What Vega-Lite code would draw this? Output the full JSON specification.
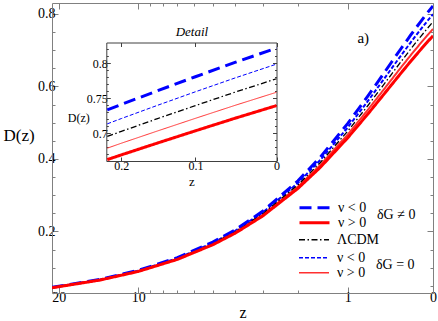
{
  "$schema": "https://vega.github.io/schema/vega-lite/v6.json",
  "width": 381,
  "height": 290,
  "autosize": "none",
  "padding": {"left": 52, "top": 3, "right": 5, "bottom": 28},
  "background": "white",
  "config": {
    "view": {"stroke": null},
    "axis": {"grid": false, "labelFont": "Liberation Serif, Times New Roman, serif", "titleFont": "Liberation Serif, Times New Roman, serif", "labelColor": "black", "titleColor": "black", "titleFontWeight": "normal", "labelFlush": false, "labelOverlap": false},
    "legend": {"orient": "none", "padding": 0, "labelFont": "Liberation Serif, Times New Roman, serif", "labelFontSize": 14, "labelColor": "black", "titleFont": "Liberation Serif, Times New Roman, serif", "titleFontSize": 14, "titleFontWeight": "normal", "titleColor": "black", "symbolType": "stroke", "symbolSize": 900, "clipHeight": 13.5, "labelOffset": 7, "rowPadding": 0, "titleOrient": "right", "titlePadding": 11, "titleBaseline": "middle", "titleAnchor": "middle"},
    "text": {"font": "Liberation Serif, Times New Roman, serif"}
  },
  "datasets": {
    "curves": [
      {"zp1": 1, "series": "BT", "D": 0.822}, {"zp1": 1, "series": "RT", "D": 0.7395}, {"zp1": 1, "series": "LC", "D": 0.778}, {"zp1": 1, "series": "BN", "D": 0.799}, {"zp1": 1, "series": "RN", "D": 0.7586},
      {"zp1": 1.05, "series": "BT", "D": 0.8014}, {"zp1": 1.05, "series": "RT", "D": 0.7213}, {"zp1": 1.05, "series": "LC", "D": 0.7587}, {"zp1": 1.05, "series": "BN", "D": 0.7791}, {"zp1": 1.05, "series": "RN", "D": 0.7398},
      {"zp1": 1.1, "series": "BT", "D": 0.7809}, {"zp1": 1.1, "series": "RT", "D": 0.7033}, {"zp1": 1.1, "series": "LC", "D": 0.7395}, {"zp1": 1.1, "series": "BN", "D": 0.7593}, {"zp1": 1.1, "series": "RN", "D": 0.7212},
      {"zp1": 1.15, "series": "BT", "D": 0.7608}, {"zp1": 1.15, "series": "RT", "D": 0.6858}, {"zp1": 1.15, "series": "LC", "D": 0.7208}, {"zp1": 1.15, "series": "BN", "D": 0.7399}, {"zp1": 1.15, "series": "RN", "D": 0.7031},
      {"zp1": 1.2, "series": "BT", "D": 0.7411}, {"zp1": 1.2, "series": "RT", "D": 0.6688}, {"zp1": 1.2, "series": "LC", "D": 0.7025}, {"zp1": 1.2, "series": "BN", "D": 0.7209}, {"zp1": 1.2, "series": "RN", "D": 0.6855},
      {"zp1": 1.22, "series": "BT", "D": 0.7332}, {"zp1": 1.22, "series": "RT", "D": 0.662}, {"zp1": 1.22, "series": "LC", "D": 0.6952}, {"zp1": 1.22, "series": "BN", "D": 0.7133}, {"zp1": 1.22, "series": "RN", "D": 0.6784},
      {"zp1": 1.3, "series": "BT", "D": 0.7031}, {"zp1": 1.3, "series": "RT", "D": 0.6358}, {"zp1": 1.3, "series": "LC", "D": 0.6672}, {"zp1": 1.3, "series": "BN", "D": 0.6843}, {"zp1": 1.3, "series": "RN", "D": 0.6514},
      {"zp1": 1.4, "series": "BT", "D": 0.6673}, {"zp1": 1.4, "series": "RT", "D": 0.6047}, {"zp1": 1.4, "series": "LC", "D": 0.6339}, {"zp1": 1.4, "series": "BN", "D": 0.6498}, {"zp1": 1.4, "series": "RN", "D": 0.6192},
      {"zp1": 1.5, "series": "BT", "D": 0.6334}, {"zp1": 1.5, "series": "RT", "D": 0.5758}, {"zp1": 1.5, "series": "LC", "D": 0.6027}, {"zp1": 1.5, "series": "BN", "D": 0.6173}, {"zp1": 1.5, "series": "RN", "D": 0.5891},
      {"zp1": 1.7, "series": "BT", "D": 0.5729}, {"zp1": 1.7, "series": "RT", "D": 0.5236}, {"zp1": 1.7, "series": "LC", "D": 0.5466}, {"zp1": 1.7, "series": "BN", "D": 0.5591}, {"zp1": 1.7, "series": "RN", "D": 0.535},
      {"zp1": 2, "series": "BT", "D": 0.4979}, {"zp1": 2, "series": "RT", "D": 0.4584}, {"zp1": 2, "series": "LC", "D": 0.4768}, {"zp1": 2, "series": "BN", "D": 0.4868}, {"zp1": 2, "series": "RN", "D": 0.4675},
      {"zp1": 2.5, "series": "BT", "D": 0.405}, {"zp1": 2.5, "series": "RT", "D": 0.3769}, {"zp1": 2.5, "series": "LC", "D": 0.39}, {"zp1": 2.5, "series": "BN", "D": 0.3972}, {"zp1": 2.5, "series": "RN", "D": 0.3834},
      {"zp1": 3, "series": "BT", "D": 0.3394}, {"zp1": 3, "series": "RT", "D": 0.3186}, {"zp1": 3, "series": "LC", "D": 0.3283}, {"zp1": 3, "series": "BN", "D": 0.3336}, {"zp1": 3, "series": "RN", "D": 0.3234},
      {"zp1": 4, "series": "BT", "D": 0.2554}, {"zp1": 4, "series": "RT", "D": 0.2423}, {"zp1": 4, "series": "LC", "D": 0.2484}, {"zp1": 4, "series": "BN", "D": 0.2518}, {"zp1": 4, "series": "RN", "D": 0.2453},
      {"zp1": 5, "series": "BT", "D": 0.2043}, {"zp1": 5, "series": "RT", "D": 0.195}, {"zp1": 5, "series": "LC", "D": 0.1993}, {"zp1": 5, "series": "BN", "D": 0.2017}, {"zp1": 5, "series": "RN", "D": 0.1971},
      {"zp1": 6, "series": "BT", "D": 0.1702}, {"zp1": 6, "series": "RT", "D": 0.1631}, {"zp1": 6, "series": "LC", "D": 0.1664}, {"zp1": 6, "series": "BN", "D": 0.1682}, {"zp1": 6, "series": "RN", "D": 0.1647},
      {"zp1": 8, "series": "BT", "D": 0.1273}, {"zp1": 8, "series": "RT", "D": 0.1228}, {"zp1": 8, "series": "LC", "D": 0.1249}, {"zp1": 8, "series": "BN", "D": 0.126}, {"zp1": 8, "series": "RN", "D": 0.1238},
      {"zp1": 11, "series": "BT", "D": 0.0924}, {"zp1": 11, "series": "RT", "D": 0.0895}, {"zp1": 11, "series": "LC", "D": 0.0909}, {"zp1": 11, "series": "BN", "D": 0.0916}, {"zp1": 11, "series": "RN", "D": 0.0902},
      {"zp1": 15, "series": "BT", "D": 0.0677}, {"zp1": 15, "series": "RT", "D": 0.0658}, {"zp1": 15, "series": "LC", "D": 0.0667}, {"zp1": 15, "series": "BN", "D": 0.0672}, {"zp1": 15, "series": "RN", "D": 0.0662},
      {"zp1": 22.2, "series": "BT", "D": 0.0456}, {"zp1": 22.2, "series": "RT", "D": 0.0444}, {"zp1": 22.2, "series": "LC", "D": 0.045}, {"zp1": 22.2, "series": "BN", "D": 0.0453}, {"zp1": 22.2, "series": "RN", "D": 0.0447}
    ],
    "notes": [{"zp1": 1.764, "D": 0.733, "label": "a)"}]
  },
  "layer": [
    {
      "data": {"name": "curves"},
      "transform": [{"filter": "datum.series == 'BN' || datum.series == 'RN'"}],
      "mark": {"type": "line", "clip": true},
      "encoding": {
        "x": {"field": "zp1", "type": "quantitative", "scale": {"type": "log", "domain": [1, 22.198], "reverse": true, "nice": false}, "axis": null},
        "y": {"field": "D", "type": "quantitative", "scale": {"domain": [0.03, 0.83], "nice": false, "zero": false}, "axis": null},
        "color": {"field": "series", "type": "nominal", "scale": {"domain": ["BN", "RN"], "range": ["#0000ff", "#ff3030"]}, "legend": {"title": "δG = 0", "legendX": 246, "legendY": 248, "labelExpr": "datum.label == 'BN' ? 'ν < 0' : 'ν > 0'"}},
        "strokeDash": {"field": "series", "type": "nominal", "scale": {"domain": ["BN", "RN"], "range": [[4, 2], [1, 0]]}, "legend": {"title": "δG = 0", "legendX": 246, "legendY": 248, "labelExpr": "datum.label == 'BN' ? 'ν < 0' : 'ν > 0'"}}
      }
    },
    {
      "data": {"name": "curves"},
      "transform": [{"filter": "datum.series == 'LC'"}],
      "mark": {"type": "line", "clip": true, "strokeWidth": 1.3},
      "encoding": {
        "x": {"field": "zp1", "type": "quantitative", "scale": {"type": "log", "domain": [1, 22.198], "reverse": true, "nice": false}, "axis": null},
        "y": {"field": "D", "type": "quantitative", "scale": {"domain": [0.03, 0.83], "nice": false, "zero": false}, "axis": null},
        "color": {"field": "series", "type": "nominal", "scale": {"domain": ["LC"], "range": ["#000000"]}, "legend": {"title": null, "legendX": 246, "legendY": 230, "labelExpr": "'ΛCDM'", "symbolStrokeWidth": 1.3}},
        "strokeDash": {"field": "series", "type": "nominal", "scale": {"domain": ["LC"], "range": [[6, 2.5, 1.5, 2.5]]}, "legend": {"title": null, "legendX": 246, "legendY": 230, "labelExpr": "'ΛCDM'", "symbolStrokeWidth": 1.3}}
      }
    },
    {
      "data": {"name": "curves"},
      "transform": [{"filter": "datum.series == 'BT' || datum.series == 'RT'"}],
      "mark": {"type": "line", "clip": true, "strokeWidth": 3},
      "encoding": {
        "x": {"field": "zp1", "type": "quantitative", "scale": {"type": "log", "domain": [1, 22.198], "reverse": true, "nice": false},
          "axis": {"orient": "bottom", "values": [1, 2, 11, 21], "labelExpr": "format(datum.value - 1, 'd')", "tickSize": -6, "labelPadding": 3, "labelFontSize": 14, "domainColor": "#808080", "tickColor": "#808080", "title": "z", "titleFontSize": 16, "titleY": 24, "titleBaseline": "alphabetic"}},
        "y": {"field": "D", "type": "quantitative", "scale": {"domain": [0.03, 0.83], "nice": false, "zero": false},
          "axis": {"orient": "left", "values": [0.2, 0.4, 0.6, 0.8], "format": ".1f", "tickSize": -6, "labelPadding": 3, "labelFontSize": 14, "domainColor": "#808080", "tickColor": "#808080", "title": "D(z)", "titleFontSize": 17, "titleAngle": 0, "titleX": -49, "titleY": 132, "titleAlign": "left", "titleBaseline": "middle"}},
        "color": {"field": "series", "type": "nominal", "scale": {"domain": ["BT", "RT"], "range": ["#0000ff", "#ff0000"]}, "legend": {"title": "δG ≠ 0", "legendX": 246, "legendY": 198, "labelExpr": "datum.label == 'BT' ? 'ν < 0' : 'ν > 0'", "symbolStrokeWidth": 3}},
        "strokeDash": {"field": "series", "type": "nominal", "scale": {"domain": ["BT", "RT"], "range": [[12, 6], [1, 0]]}, "legend": {"title": "δG ≠ 0", "legendX": 246, "legendY": 198, "labelExpr": "datum.label == 'BT' ? 'ν < 0' : 'ν > 0'", "symbolStrokeWidth": 3}}
      }
    },
    {
      "data": {"name": "curves"},
      "mark": {"type": "point", "opacity": 0},
      "encoding": {
        "x": {"field": "zp1", "type": "quantitative", "scale": {"type": "log", "domain": [1, 22.198], "reverse": true, "nice": false},
          "axis": {"orient": "top", "values": [1, 2, 11, 21], "labels": false, "tickSize": -6, "domainColor": "#808080", "tickColor": "#808080", "title": null}},
        "y": {"field": "D", "type": "quantitative", "scale": {"domain": [0.03, 0.83], "nice": false, "zero": false},
          "axis": {"orient": "right", "values": [0.2, 0.4, 0.6, 0.8], "labels": false, "tickSize": -6, "domainColor": "#808080", "tickColor": "#808080", "title": null}}
      }
    },
    {
      "data": {"name": "curves"},
      "mark": {"type": "point", "opacity": 0},
      "encoding": {
        "x": {"field": "zp1", "type": "quantitative", "scale": {"type": "log", "domain": [1, 22.198], "reverse": true, "nice": false},
          "axis": {"orient": "bottom", "values": [3, 4, 5, 6, 7, 8, 9, 10], "labels": false, "domain": false, "tickSize": -3, "tickColor": "#808080", "title": null}},
        "y": {"field": "D", "type": "quantitative", "scale": {"domain": [0.03, 0.83], "nice": false, "zero": false},
          "axis": {"orient": "left", "values": [0.05, 0.1, 0.15, 0.25, 0.3, 0.35, 0.45, 0.5, 0.55, 0.65, 0.7, 0.75], "labels": false, "domain": false, "tickSize": -3, "tickColor": "#808080", "title": null}}
      }
    },
    {
      "data": {"name": "curves"},
      "mark": {"type": "point", "opacity": 0},
      "encoding": {
        "x": {"field": "zp1", "type": "quantitative", "scale": {"type": "log", "domain": [1, 22.198], "reverse": true, "nice": false},
          "axis": {"orient": "top", "values": [3, 4, 5, 6, 7, 8, 9, 10], "labels": false, "domain": false, "tickSize": -3, "tickColor": "#808080", "title": null}},
        "y": {"field": "D", "type": "quantitative", "scale": {"domain": [0.03, 0.83], "nice": false, "zero": false},
          "axis": {"orient": "right", "values": [0.05, 0.1, 0.15, 0.25, 0.3, 0.35, 0.45, 0.5, 0.55, 0.65, 0.7, 0.75], "labels": false, "domain": false, "tickSize": -3, "tickColor": "#808080", "title": null}}
      }
    },
    {
      "data": {"name": "notes"},
      "mark": {"type": "text", "fontSize": 15, "color": "black"},
      "encoding": {
        "x": {"field": "zp1", "type": "quantitative", "scale": {"type": "log", "domain": [1, 22.198], "reverse": true, "nice": false}, "axis": null},
        "y": {"field": "D", "type": "quantitative", "scale": {"domain": [0.03, 0.83], "nice": false, "zero": false}, "axis": null},
        "text": {"field": "label"}
      }
    },
    {
      "data": {"name": "curves"},
      "transform": [{"filter": "datum.zp1 <= 1.221"}],
      "mark": {"type": "line"},
      "encoding": {
        "x": {"field": "zp1", "type": "quantitative", "scale": {"type": "log", "domain": [1, 1.2214], "range": [224.5, 54.3], "nice": false},
          "axis": {"orient": "bottom", "offset": -132, "values": [1, 1.1, 1.2], "labelExpr": "format(datum.value - 1, '.1~f')", "tickSize": -4, "labelPadding": 3, "labelFontSize": 12, "domainColor": "#404040", "tickColor": "#404040", "title": "z", "titleFontSize": 13, "titleY": 24, "titleBaseline": "alphabetic"}},
        "y": {"field": "D", "type": "quantitative", "scale": {"domain": [0.66, 0.83], "range": [158, 39.5], "nice": false, "zero": false},
          "axis": {"orient": "left", "offset": -54.3, "values": [0.7, 0.75, 0.8], "format": ".2~f", "tickSize": -4, "labelPadding": 3, "labelFontSize": 12, "domainColor": "#404040", "tickColor": "#404040", "title": "D(z)", "titleFontSize": 12, "titleAngle": 0, "titleX": -39, "titleY": 114, "titleAlign": "left", "titleBaseline": "middle"}},
        "color": {"field": "series", "type": "nominal", "scale": {"domain": ["BT", "RT", "LC", "BN", "RN"], "range": ["#0000ff", "#ff0000", "#000000", "#0000ff", "#ff3030"]}, "legend": null},
        "strokeDash": {"field": "series", "type": "nominal", "scale": {"domain": ["BT", "RT", "LC", "BN", "RN"], "range": [[12, 6], [1, 0], [6, 2.5, 1.5, 2.5], [4, 2], [1, 0]]}, "legend": null},
        "strokeWidth": {"field": "series", "type": "nominal", "scale": {"type": "ordinal", "domain": ["BT", "RT", "LC", "BN", "RN"], "range": [3, 3, 1.3, 1, 1]}, "legend": null}
      }
    },
    {
      "data": {"name": "curves"},
      "mark": {"type": "point", "opacity": 0},
      "encoding": {
        "x": {"field": "zp1", "type": "quantitative", "scale": {"type": "log", "domain": [1, 1.2214], "range": [224.5, 54.3], "nice": false},
          "axis": {"orient": "top", "offset": -39.5, "values": [1, 1.1, 1.2], "labels": false, "tickSize": -4, "domainColor": "#404040", "tickColor": "#404040", "title": "Detail", "titleFontSize": 13, "titleFontStyle": "italic", "titleY": -11, "titleBaseline": "middle"}},
        "y": {"field": "D", "type": "quantitative", "scale": {"domain": [0.66, 0.83], "range": [158, 39.5], "nice": false, "zero": false},
          "axis": {"orient": "right", "offset": -156.5, "values": [0.7, 0.75, 0.8], "labels": false, "tickSize": -4, "domainColor": "#404040", "tickColor": "#404040", "title": null}}
      }
    },
    {
      "data": {"name": "curves"},
      "mark": {"type": "point", "opacity": 0},
      "encoding": {
        "x": {"field": "zp1", "type": "quantitative", "scale": {"type": "log", "domain": [1, 1.2214], "range": [224.5, 54.3], "nice": false}, "axis": null},
        "y": {"field": "D", "type": "quantitative", "scale": {"domain": [0.66, 0.83], "range": [158, 39.5], "nice": false, "zero": false},
          "axis": {"orient": "left", "offset": -54.3, "values": [0.67, 0.68, 0.69, 0.71, 0.72, 0.73, 0.74, 0.76, 0.77, 0.78, 0.79, 0.81, 0.82], "labels": false, "domain": false, "tickSize": -2, "tickColor": "#404040", "title": null}}
      }
    },
    {
      "data": {"name": "curves"},
      "mark": {"type": "point", "opacity": 0},
      "encoding": {
        "x": {"field": "zp1", "type": "quantitative", "scale": {"type": "log", "domain": [1, 1.2214], "range": [224.5, 54.3], "nice": false}, "axis": null},
        "y": {"field": "D", "type": "quantitative", "scale": {"domain": [0.66, 0.83], "range": [158, 39.5], "nice": false, "zero": false},
          "axis": {"orient": "right", "offset": -156.5, "values": [0.67, 0.68, 0.69, 0.71, 0.72, 0.73, 0.74, 0.76, 0.77, 0.78, 0.79, 0.81, 0.82], "labels": false, "domain": false, "tickSize": -2, "tickColor": "#404040", "title": null}}
      }
    }
  ],
  "resolve": {
    "scale": {"x": "independent", "y": "independent", "color": "independent", "strokeDash": "independent", "strokeWidth": "independent"},
    "axis": {"x": "independent", "y": "independent"},
    "legend": {"color": "independent", "strokeDash": "independent", "strokeWidth": "independent"}
  }
}
